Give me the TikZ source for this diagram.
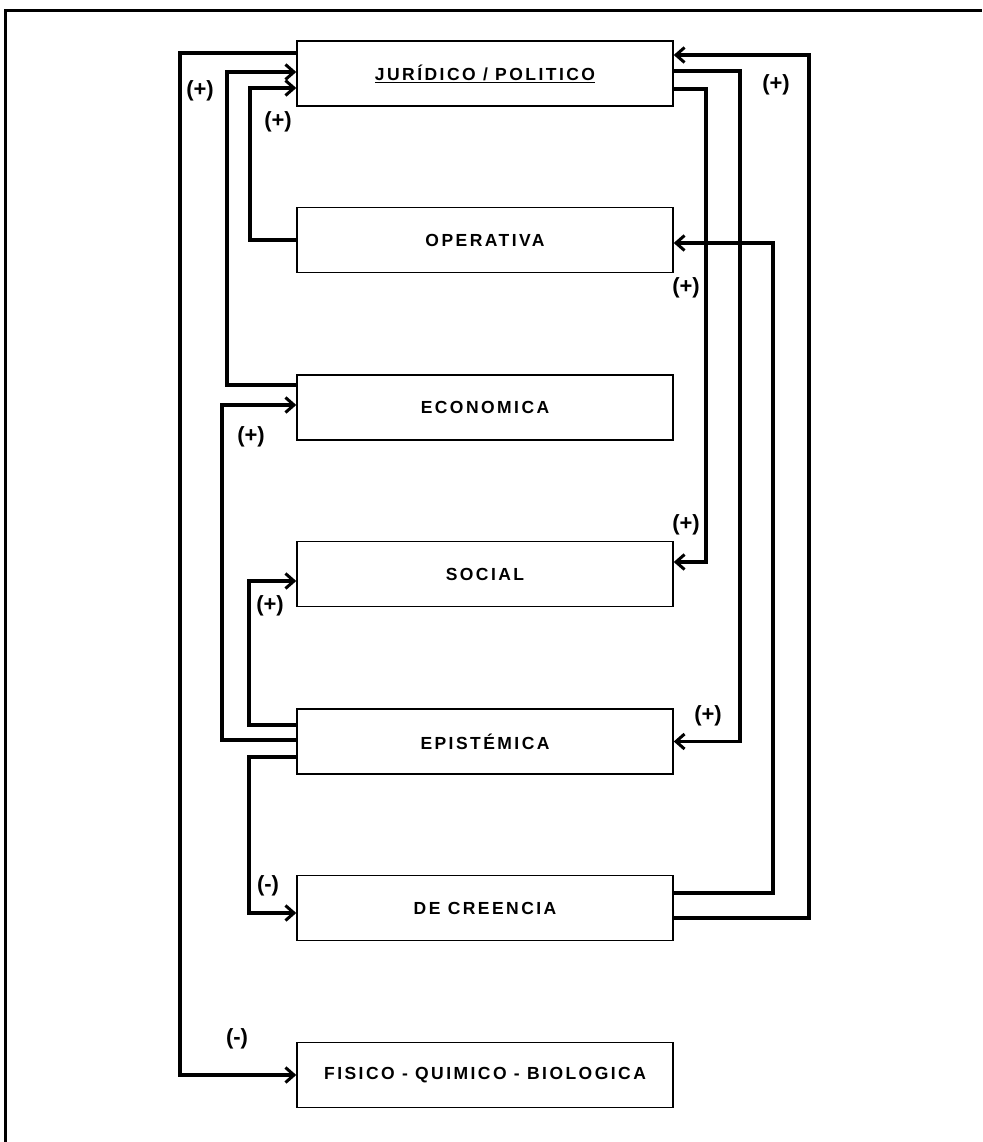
\documentclass[tikz,border=0pt]{standalone}
\usepackage{fontspec}
\setmainfont{Liberation Sans}
\newfontfamily\boxfont{Liberation Sans}[LetterSpace=14]
\usetikzlibrary{arrows.meta}
\tikzset{
  box/.style={draw, line width=1.5pt, minimum width=376pt, minimum height=65pt, inner sep=0pt,
    font=\boxfont\fontsize{17.5}{20}\selectfont\bfseries},
  conn/.style={line width=3.2pt, line join=miter},
  arr/.style={conn, -{Straight Barb[length=8.5pt,width=15pt,line width=3pt]}},
  sign/.style={font=\fontsize{22}{24}\selectfont\bfseries, inner sep=0pt}
}
\begin{document}
\begin{tikzpicture}[x=1pt,y=-1pt]
\useasboundingbox (0,0) rectangle (982,1142);
\draw[line width=3pt] (5,1142) -- (5,11) -- (982,11);

\node[box] (j)  at (485,73.5) {\underline{JURÍDICO / POLITICO}};
\node[box] (o)  at (485,240) {OPERATIVA};
\node[box] (e)  at (485,407.5) {ECONOMICA};
\node[box] (s)  at (485,574) {SOCIAL};
\node[box] (ep) at (485,741.5) {EPISTÉMICA};
\node[box] (dc) at (485,908) {DE CREENCIA};
\node[box] (f)  at (485,1075) {FISICO - QUIMICO - BIOLOGICA};

% left side
\draw[arr] (j.west |- 0,53) -- (180,53) |- (f.west);
\draw[arr] (e.west |- 0,385) -- (227,385) |- (j.west |- 0,72);
\draw[arr] (o.west) -- (250,240) |- (j.west |- 0,88);
\draw[arr] (ep.west |- 0,740) -- (222,740) |- (e.west |- 0,405);
\draw[arr] (ep.west |- 0,725) -- (249,725) |- (s.west |- 0,581);
\draw[arr] (ep.west |- 0,757) -- (249,757) |- (dc.west |- 0,913);

% right side
\draw[arr] (j.east |- 0,71) -- (740,71) |- (ep.east);
\draw[arr] (j.east |- 0,89) -- (706,89) |- (s.east |- 0,562);
\draw[arr] (dc.east |- 0,893) -- (773,893) |- (o.east |- 0,243);
\draw[arr] (dc.east |- 0,918) -- (809,918) |- (j.east |- 0,55);

% signs
\node[sign] (l1) at (200,91) {(+)};
\node[sign] (l2) at (278,122) {(+)};
\node[sign] (l3) at (776,85) {(+)};
\node[sign] (l4) at (686,288) {(+)};
\node[sign] (l5) at (251,437) {(+)};
\node[sign] (l6) at (686,525) {(+)};
\node[sign] (l7) at (270,606) {(+)};
\node[sign] (l8) at (708,716) {(+)};
\node[sign] (l9) at (268,886) {(-)};
\node[sign] (l10) at (237,1039) {(-)};
\end{tikzpicture}
\end{document}
